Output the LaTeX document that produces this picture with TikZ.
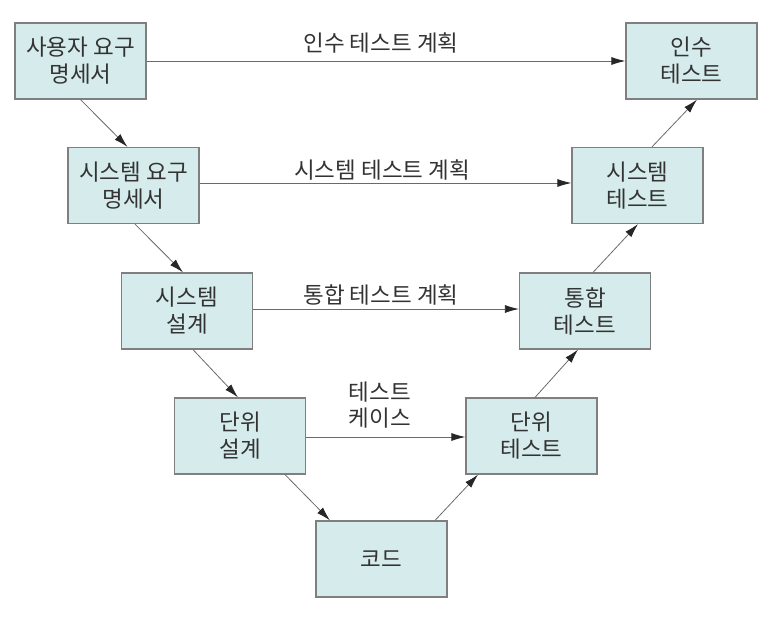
\documentclass[tikz,border=0pt]{standalone}
\usepackage{fontspec}
\setmainfont{Noto Sans CJK KR}
\usetikzlibrary{arrows.meta}
\definecolor{boxfill}{HTML}{D6ECEC}
\definecolor{boxline}{HTML}{7F7F7F}
\definecolor{ink}{HTML}{333333}
\definecolor{wire}{HTML}{6A6A6A}

\begin{document}
\begin{tikzpicture}[
  x=1pt, y=-1pt,
  blk/.style={draw=boxline, line width=1.2pt, fill=boxfill, minimum width=131pt,
              minimum height=76pt, align=center, text=ink, inner sep=2pt,
              font=\fontsize{22.5}{27}\selectfont},
  arr/.style={-{Latex[length=14pt,width=8pt,color=black!85]}, wire, line width=0.8pt},
  lbl/.style={text=ink, align=center, font=\fontsize{22.5}{26}\selectfont}
]
\useasboundingbox (0,0) rectangle (779,616);
% ---------------- left leg ----------------
\node[blk] (usrreq) at (80.5,61) {사용자 요구\\명세서};
\node[blk] (sysreq) at (133.5,185.5) {시스템 요구\\명세서};
\node[blk] (sysdes) at (187,311) {시스템\\설계};
\node[blk] (unitdes) at (240,436) {단위\\설계};
% ---------------- bottom ----------------
\node[blk] (code) at (381.5,559) {코드};
% ---------------- right leg ----------------
\node[blk] (unittst) at (531.5,436) {단위\\테스트};
\node[blk] (inttst) at (585,311) {통합\\테스트};
\node[blk] (systst) at (637.5,185.5) {시스템\\테스트};
\node[blk] (acctst) at (691.5,61) {인수\\테스트};
% ---------------- plans ----------------
\node[lbl] (accplan) at (381,43) {인수 테스트 계획};
\node[lbl] (sysplan) at (382,170) {시스템 테스트 계획};
\node[lbl] (intplan) at (381,295) {통합 테스트 계획};
\node[lbl] (cases) at (380,405) {테스트\\케이스};
\draw[arr] (usrreq.east) -- (acctst.west);
\draw[arr] ([yshift=2.5]sysreq.east) -- ([yshift=2.5]systst.west);
\draw[arr] ([yshift=2]sysdes.east) -- ([yshift=2]inttst.west);
\draw[arr] ([yshift=-1]unitdes.east) -- ([yshift=-1]unittst.west);
% ---------------- V arrows ----------------
\draw[arr] (usrreq.south) -- ([xshift=-6]sysreq.north);
\draw[arr] ([xshift=1.5]sysreq.south) -- ([xshift=-4]sysdes.north);
\draw[arr] ([xshift=6]sysdes.south) -- ([xshift=-2]unitdes.north);
\draw[arr] ([xshift=45]unitdes.south) -- ([xshift=-51.5]code.north);
\draw[arr] ([xshift=53.5]code.north) -- ([xshift=-53.5]unittst.south);
\draw[arr] ([xshift=3.5]unittst.north) -- ([xshift=-7]inttst.south);
\draw[arr] ([xshift=8]inttst.north) -- ([xshift=0.5]systst.south);
\draw[arr] ([xshift=14.5]systst.north) -- ([xshift=5.5]acctst.south);
\end{tikzpicture}
\end{document}
